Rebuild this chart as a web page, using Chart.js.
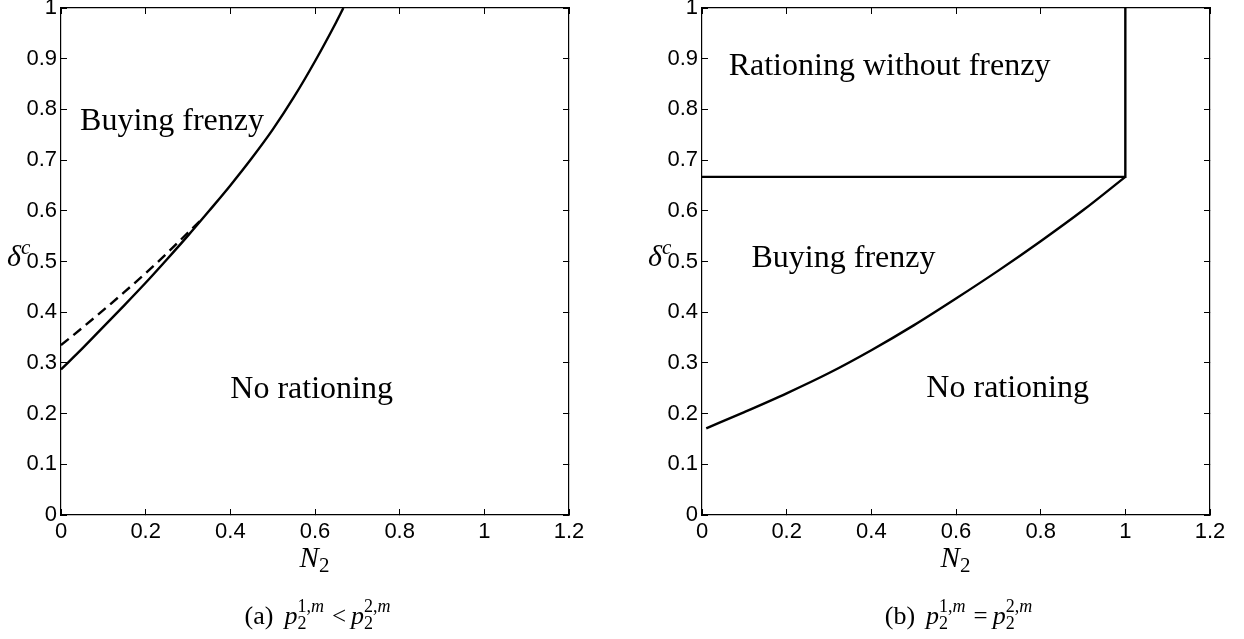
<!DOCTYPE html>
<html>
<head>
<meta charset="utf-8">
<script src="https://cdn.jsdelivr.net/npm/chart.js@4.4.1/dist/chart.umd.min.js"></script>
<style>
  html, body { margin: 0; padding: 0; background: #fff; }
  #wrap { position: relative; width: 1244px; height: 639px; }
  .panel { position: absolute; top: 0; width: 622px; height: 639px; }
  #left { left: 0; }
  #right { left: 622px; }
</style>
</head>
<body>
<div id="wrap">
  <div class="panel" id="left"><canvas id="chartA"></canvas></div>
  <div class="panel" id="right"><canvas id="chartB"></canvas></div>
</div>
<script>
'use strict';

// tick values, same on both panels
let xTicks = [0, 0.2, 0.4, 0.6, 0.8, 1, 1.2];
let yTicks = [0, 0.1, 0.2, 0.3, 0.4, 0.5, 0.6, 0.7, 0.8, 0.9, 1];

// panel (a): threshold delta^c against N2
let aSolidN = [0, 0.05, 0.1, 0.15, 0.2, 0.25, 0.3, 0.35, 0.4, 0.45, 0.5, 0.55, 0.6, 0.65, 0.667];
let aSolidDelta = [0.287, 0.328, 0.371, 0.414, 0.458, 0.504, 0.551, 0.600, 0.650, 0.703, 0.760, 0.824, 0.895, 0.972, 1.0];
let aDashN = [0, 0.05, 0.1, 0.15, 0.2, 0.25, 0.3, 0.333];
let aDashDelta = [0.335, 0.369, 0.404, 0.440, 0.477, 0.516, 0.557, 0.584];

// panel (b)
let bCurveN = [0.01, 0.1, 0.2, 0.3, 0.4, 0.5, 0.6, 0.7, 0.8, 0.9, 1.0];
let bCurveDelta = [0.171, 0.203, 0.240, 0.280, 0.325, 0.374, 0.427, 0.482, 0.540, 0.601, 0.667];
let bBoxN = [0, 1, 1];
let bBoxDelta = [0.667, 0.667, 1];

const SERIF = '"Liberation Serif", "Times New Roman", serif';
const SANS = '"Liberation Sans", Arial, sans-serif';

function toPoints(xs, ys) {
  return xs.map((x, i) => ({ x: x, y: ys[i] }));
}

function lineSet(xs, ys, opts) {
  opts = opts || {};
  return {
    data: toPoints(xs, ys),
    showLine: true,
    borderColor: '#000',
    borderWidth: 2.4,
    borderDash: opts.dash || [],
    cubicInterpolationMode: opts.smooth ? 'monotone' : 'default',
    tension: 0,
    pointRadius: 0,
    fill: false
  };
}

function makeScales(yWidth) {
  let tickFont = { family: SANS, size: 22 };
  let setTicks = list => scale => { scale.ticks = list.map(v => ({ value: v })); };
  let axis = (pos, list, showLabels, size) => {
    let horiz = pos === 'top' || pos === 'bottom';
    return {
      type: 'linear',
      position: pos,
      min: 0,
      max: horiz ? 1.2 : 1,
      afterBuildTicks: setTicks(list),
      ticks: {
        display: showLabels,
        color: '#000',
        font: tickFont,
        padding: 10,
        maxRotation: 0,
        autoSkip: false,
        callback: v => String(v)
      },
      grid: { drawOnChartArea: false, tickLength: -6, color: '#000', tickWidth: 1 },
      border: { display: true, color: '#000', width: 1.2 },
      afterFit: scale => {
        if (horiz) scale.height = size; else scale.width = size;
        scale.paddingLeft = 0; scale.paddingRight = 0;
        scale.paddingTop = 0; scale.paddingBottom = 0;
      }
    };
  };
  return {
    x: axis('bottom', xTicks, true, 124),
    x2: axis('top', xTicks, false, 0),
    y: axis('left', yTicks, true, yWidth),
    y2: axis('right', yTicks, false, 0)
  };
}

// a run is a list of [text, font] pairs drawn one after another
function runWidth(ctx, run) {
  return run.reduce((w, r) => { ctx.font = r[1]; return w + ctx.measureText(r[0]).width; }, 0);
}

function drawRun(ctx, run, x, y) {
  run.forEach(r => {
    ctx.font = r[1];
    ctx.fillText(r[0], x, y);
    x += ctx.measureText(r[0]).width;
  });
}

// row of pieces: {run}, {gap}, or {sub, sup} stacked scripts
function drawMath(ctx, parts, x, y, align) {
  let widths = parts.map(p => {
    if (p.gap !== undefined) return p.gap;
    if (p.run) return runWidth(ctx, p.run);
    return Math.max(p.sub ? runWidth(ctx, p.sub) : 0, p.sup ? runWidth(ctx, p.sup) : 0) + 1;
  });
  let total = widths.reduce((a, b) => a + b, 0);
  let cx = align === 'center' ? x - total / 2 : x;
  ctx.textAlign = 'left';
  ctx.textBaseline = 'alphabetic';
  parts.forEach((p, i) => {
    if (p.run) drawRun(ctx, p.run, cx, y);
    if (p.sub) drawRun(ctx, p.sub, cx, y + p.subDy);
    if (p.sup) drawRun(ctx, p.sup, cx, y - p.supDy);
    cx += widths[i];
  });
}

let textPlugin = {
  id: 'regionText',
  afterDraw(chart, args, opts) {
    let ctx = chart.ctx;
    let area = chart.chartArea;
    let xs = chart.scales.x;
    let ys = chart.scales.y;
    ctx.save();
    ctx.fillStyle = '#000';
    // region names placed in data space
    ctx.font = '32px ' + SERIF;
    ctx.textAlign = 'left';
    ctx.textBaseline = 'alphabetic';
    opts.regions.forEach(r => {
      ctx.fillText(r.text, xs.getPixelForValue(r.n), ys.getPixelForValue(r.d));
    });
    // y title: delta^c
    drawMath(ctx, [
      { run: [['δ', 'italic 30px ' + SERIF]] },
      { sup: [['c', 'italic 21px ' + SERIF]], supDy: 12 }
    ], area.left - 54, 266, 'left');
    // x title: N_2
    let midX = (area.left + area.right) / 2;
    drawMath(ctx, [
      { run: [['N', 'italic 29px ' + SERIF]] },
      { sub: [['2', '21px ' + SERIF]], subDy: 5 }
    ], midX, 567, 'center');
    // caption
    let up = '18px ' + SERIF;
    let upIt = 'italic 18px ' + SERIF;
    let pIt = 'italic 26px ' + SERIF;
    drawMath(ctx, [
      { run: [[opts.tag, '26px ' + SERIF]] },
      { gap: 11 },
      { run: [['p', pIt]] },
      { sub: [['2', up]], sup: [['1,', up], ['m', upIt]], subDy: 5, supDy: 12 },
      { gap: 7 },
      { run: [[opts.rel, '25px ' + SERIF]] },
      { gap: 5 },
      { run: [['p', pIt]] },
      { sub: [['2', up]], sup: [['2,', up], ['m', upIt]], subDy: 5, supDy: 12 }
    ], midX + 3, 624, 'center');
    ctx.restore();
  }
};

function makeChart(canvasId, datasets, yWidth, rightPad, textOpts) {
  return new Chart(document.getElementById(canvasId), {
    type: 'scatter',
    data: { datasets: datasets },
    options: {
      responsive: true,
      maintainAspectRatio: false,
      animation: false,
      layout: { padding: { left: 0, right: rightPad, top: 8, bottom: 0 } },
      scales: makeScales(yWidth),
      plugins: {
        legend: { display: false },
        tooltip: { enabled: false },
        regionText: textOpts
      }
    },
    plugins: [textPlugin]
  });
}

makeChart('chartA', [
  lineSet(aSolidN, aSolidDelta, { smooth: true }),
  lineSet(aDashN, aDashDelta, { smooth: true, dash: [10, 6] })
], 61, 53, {
  tag: '(a)',
  rel: '<',
  regions: [
    { text: 'Buying frenzy', n: 0.045, d: 0.76 },
    { text: 'No rationing', n: 0.40, d: 0.23 }
  ]
});

makeChart('chartB', [
  lineSet(bCurveN, bCurveDelta, { smooth: true }),
  lineSet(bBoxN, bBoxDelta)
], 80, 34, {
  tag: '(b)',
  rel: '=',
  regions: [
    { text: 'Rationing without frenzy', n: 0.063, d: 0.868 },
    { text: 'Buying frenzy', n: 0.117, d: 0.49 },
    { text: 'No rationing', n: 0.53, d: 0.232 }
  ]
});
</script>
</body>
</html>
